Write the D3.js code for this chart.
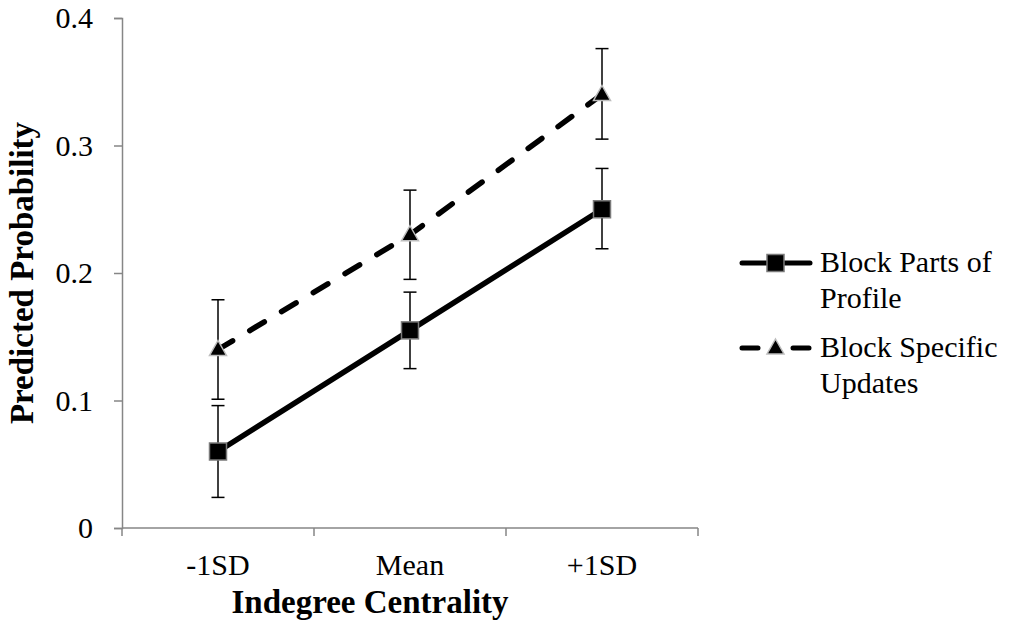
<!DOCTYPE html>
<html>
<head>
<meta charset="utf-8">
<script src="https://cdn.jsdelivr.net/npm/d3@7"></script>
<style>
  body { margin: 0; background: #fff; }
  text { font-family: "Liberation Serif", "Times New Roman", serif; }
</style>
</head>
<body>
<div id="chart"></div>
<script>
// data
let categories = ["-1SD", "Mean", "+1SD"]
let profileValues = [0.06, 0.155, 0.25]
let profileUpper = [0.096, 0.185, 0.282]
let profileLower = [0.024, 0.125, 0.219]
let updatesValues = [0.14, 0.23, 0.34]
let updatesUpper = [0.179, 0.265, 0.376]
let updatesLower = [0.101, 0.195, 0.305]
let yTicks = [0, 0.1, 0.2, 0.3, 0.4]
let seriesNames = [["Block Parts of", "Profile"], ["Block Specific", "Updates"]]

let width = 1013
let height = 628
let margin = { top: 18, left: 122, right: 315, bottom: 100 }
let axisColor = "#868686"
let fontSize = "30px"

let svg = d3.select("#chart").append("svg")
  .attr("width", width)
  .attr("height", height)

let x = d3.scaleBand()
  .domain(categories)
  .range([margin.left, width - margin.right])

let y = d3.scaleLinear()
  .domain([0, 0.4])
  .range([height - margin.bottom, margin.top])

// y axis
let yAxis = svg.append("g")
  .attr("transform", "translate(" + margin.left + ",0)")
  .call(d3.axisLeft(y)
    .tickValues(yTicks)
    .tickSize(8)
    .tickPadding(21)
    .tickFormat(d => d === 0 ? "0" : d3.format(".1f")(d)))
yAxis.select(".domain").attr("stroke", axisColor).attr("stroke-width", 1.5)
yAxis.selectAll(".tick line").attr("stroke", axisColor).attr("stroke-width", 1.5)
yAxis.selectAll(".tick text")
  .attr("fill", "#000")
  .style("font-size", fontSize)
  .style("font-family", "'Liberation Serif', serif")

// x axis: labels at band centres, ticks at band edges
let xAxis = svg.append("g")
  .attr("transform", "translate(0," + y(0) + ")")
  .call(d3.axisBottom(x).tickSize(0).tickPadding(26))
xAxis.select(".domain").remove()
xAxis.selectAll(".tick text")
  .attr("fill", "#000")
  .style("font-size", fontSize)
  .style("font-family", "'Liberation Serif', serif")

svg.append("line")
  .attr("x1", margin.left).attr("x2", x.range()[1])
  .attr("y1", y(0)).attr("y2", y(0))
  .attr("stroke", axisColor).attr("stroke-width", 1.5)

let edges = categories.map(c => x(c)).concat([x.range()[1]])
svg.append("g").selectAll("line")
  .data(edges)
  .enter().append("line")
  .attr("x1", d => d).attr("x2", d => d)
  .attr("y1", y(0)).attr("y2", y(0) + 8)
  .attr("stroke", axisColor).attr("stroke-width", 1.5)

// axis titles
svg.append("text")
  .attr("x", 370)
  .attr("y", 613)
  .attr("text-anchor", "middle")
  .style("font-size", "33px")
  .style("font-weight", "bold")
  .text("Indegree Centrality")

svg.append("text")
  .attr("transform", "translate(33," + y(0.2) + ") rotate(-90)")
  .attr("text-anchor", "middle")
  .style("font-size", "33px")
  .style("font-weight", "bold")
  .text("Predicted Probability")

let cx = c => x(c) + x.bandwidth() / 2

let series = [
  { values: profileValues, upper: profileUpper, lower: profileLower, dash: null, marker: "square" },
  { values: updatesValues, upper: updatesUpper, lower: updatesLower, dash: "17,20", marker: "triangle" }
]

let line = d3.line()
  .x((d, i) => cx(categories[i]))
  .y(d => y(d))

series.forEach(function(s) {
  // the connecting line
  svg.append("path")
    .datum(s.values)
    .attr("d", line)
    .attr("fill", "none")
    .attr("stroke", "#000")
    .attr("stroke-width", 5.5)
    .attr("stroke-linecap", "round")
    .attr("stroke-dasharray", s.dash)

  // error bars
  let bars = svg.append("g").selectAll("g")
    .data(categories)
    .enter().append("g")
  bars.append("line")
    .attr("x1", d => cx(d)).attr("x2", d => cx(d))
    .attr("y1", (d, i) => y(s.upper[i]))
    .attr("y2", (d, i) => y(s.lower[i]))
    .attr("stroke", "#000").attr("stroke-width", 1.5)
  bars.append("line")
    .attr("x1", d => cx(d) - 6.5).attr("x2", d => cx(d) + 6.5)
    .attr("y1", (d, i) => y(s.upper[i])).attr("y2", (d, i) => y(s.upper[i]))
    .attr("stroke", "#000").attr("stroke-width", 1.5)
  bars.append("line")
    .attr("x1", d => cx(d) - 6.5).attr("x2", d => cx(d) + 6.5)
    .attr("y1", (d, i) => y(s.lower[i])).attr("y2", (d, i) => y(s.lower[i]))
    .attr("stroke", "#000").attr("stroke-width", 1.5)
})

function drawMarker(g, type, px, py) {
  if (type == "square") {
    g.append("rect")
      .attr("x", px - 8.5).attr("y", py - 8.5)
      .attr("width", 17).attr("height", 17)
      .attr("fill", "#000")
      .attr("stroke", "#7a7a7a").attr("stroke-width", 1.5)
  } else {
    g.append("path")
      .attr("d", "M" + px + "," + (py - 9) + "L" + (px + 8.5) + "," + (py + 6) + "L" + (px - 8.5) + "," + (py + 6) + "Z")
      .attr("fill", "#000")
      .attr("stroke", "#bdbdbd").attr("stroke-width", 1.5)
  }
}

// markers on top of everything
let markers = svg.append("g")
series.forEach(function(s) {
  s.values.forEach(function(v, i) {
    drawMarker(markers, s.marker, cx(categories[i]), y(v))
  })
})

// legend
let legend = svg.append("g")
let legendY = [263, 348]
series.forEach(function(s, i) {
  legend.append("line")
    .attr("x1", 742).attr("x2", 810)
    .attr("y1", legendY[i]).attr("y2", legendY[i])
    .attr("stroke", "#000")
    .attr("stroke-width", 5)
    .attr("stroke-linecap", "round")
    .attr("stroke-dasharray", s.dash ? "16,35" : null)
  drawMarker(legend, s.marker, 775.5, legendY[i])
  legend.append("text")
    .attr("x", 820)
    .attr("y", legendY[i] + 9)
    .style("font-size", fontSize)
    .text(seriesNames[i][0])
  legend.append("text")
    .attr("x", 820)
    .attr("y", legendY[i] + 45)
    .style("font-size", fontSize)
    .text(seriesNames[i][1])
})
</script>
</body>
</html>
